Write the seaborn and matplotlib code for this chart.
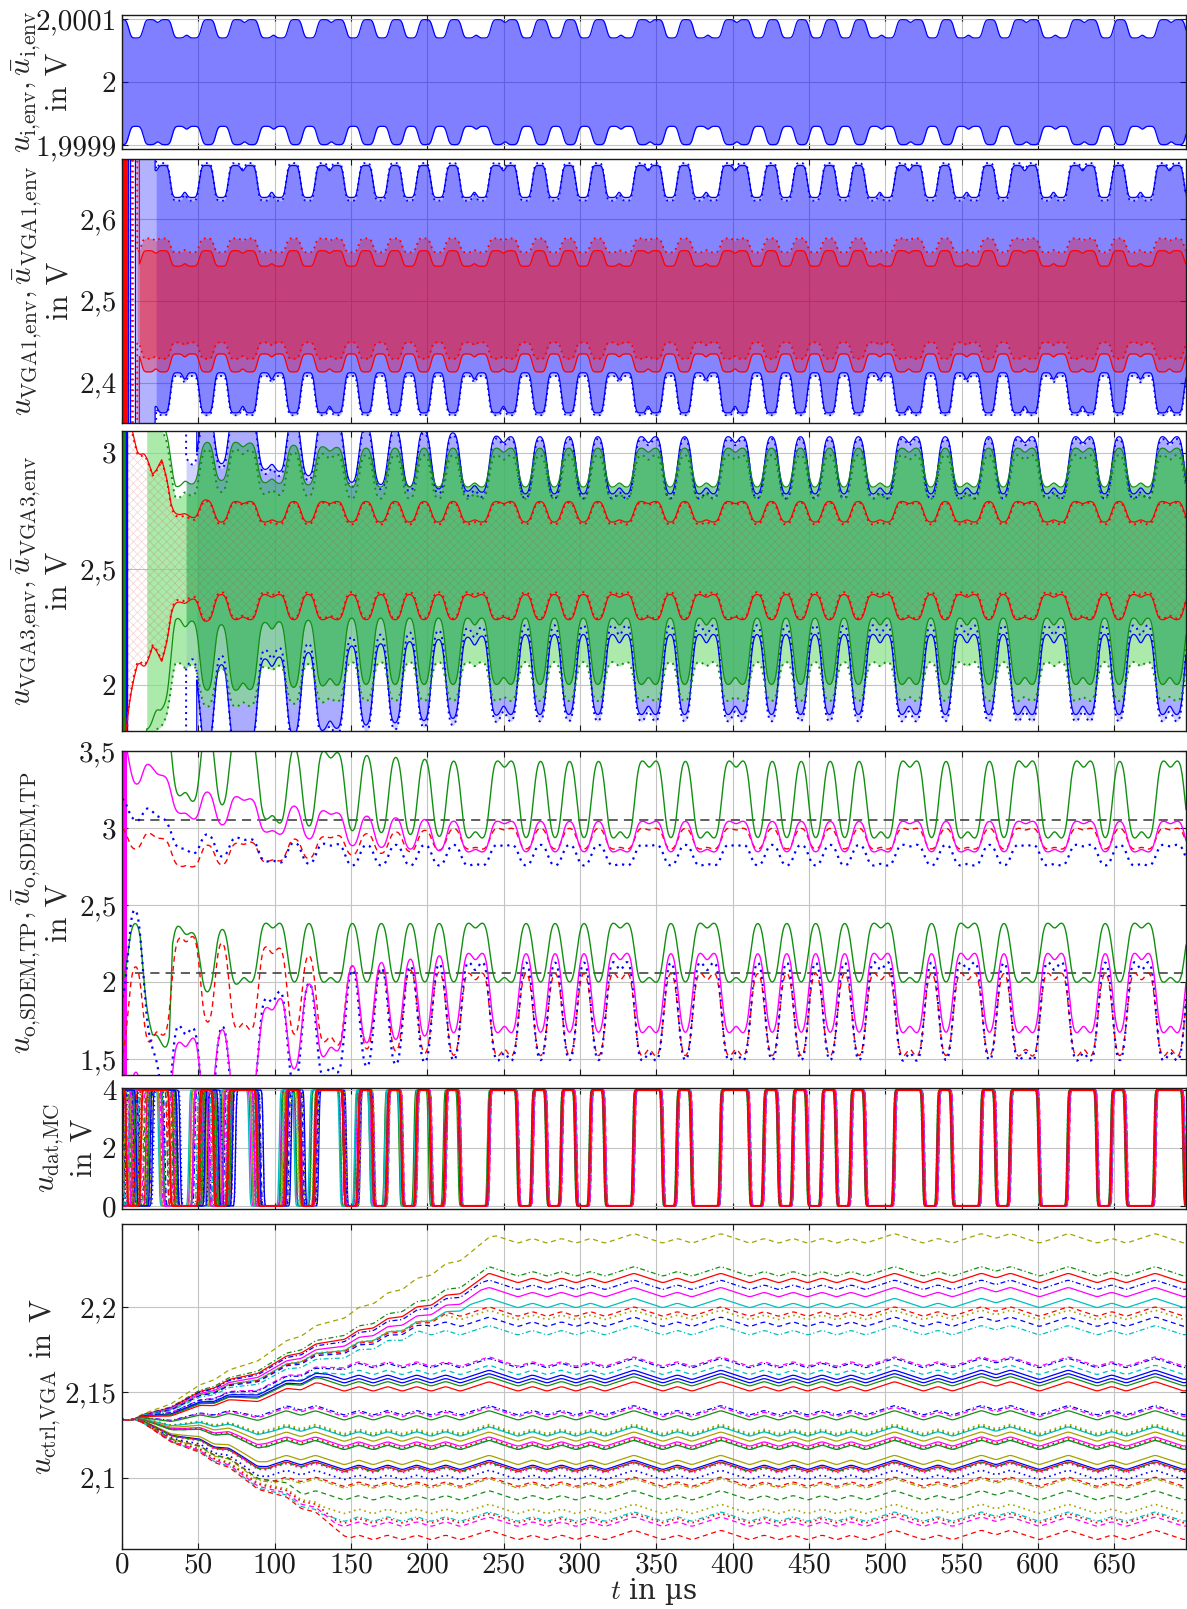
import numpy as np
import matplotlib
matplotlib.use('Agg')
import matplotlib.pyplot as plt
import seaborn as sns

sns.set_theme(style='ticks')
plt.rcParams['font.family'] = ['cmr10', 'DejaVu Serif']
plt.rcParams['mathtext.fontset'] = 'cm'
plt.rcParams['axes.unicode_minus'] = False
plt.rcParams['axes.formatter.use_mathtext'] = True
plt.rcParams['hatch.linewidth'] = 0.5

# ---------------- data ----------------
# Manchester coded data stream: 1 -> "10", 0 -> "01"
T0 = -16.07          # start of first symbol in us
H = 9.485            # half-bit duration in us
symbol_bits = [0, 0, 1, 0, 0, 1, 0, 0, 1, 1, 1, 1, 1, 0, 1, 1, 1, 1, 0, 1,
               1, 0, 1, 1, 1, 1, 1, 0, 1, 1, 0, 0, 1, 0, 1, 1, 0, 1, 0]
NOTCH_W = 1.0

# panel 1: input envelope  [top low, top high, bottom low, bottom high]
ui_env = [2.0000697, 2.0000987, 1.9999303, 1.9999013]
ui_yticks = [1.9999, 2.0, 2.0001]
ui_ylabels = ['1,9999', '2', '2,0001']

# panel 2: VGA1 envelopes
vga1_blue = [2.626, 2.665, 2.412, 2.363]
vga1_blue_dot = [2.622, 2.668, 2.408, 2.360]
vga1_red = [2.542, 2.561, 2.435, 2.413]
vga1_red_dot = [2.559, 2.576, 2.449, 2.429]
vga1_start = {'blue': 9.6, 'blue_dot': 22.4, 'red': 11.4, 'red_dot': 10.0}
vga1_blue_sat = 21.7
vga1_red_spikes = [0.2, 0.6, 1.0, 1.4, 1.8, 2.2, 2.6]
vga1_blue_spikes = [4.2, 5.5, 8.8]
vga1_reddot_spikes = [3.6, 6.5, 7.5]
vga1_yticks = [2.4, 2.5, 2.6]
vga1_ylabels = ['2,4', '2,5', '2,6']

# panel 3: VGA3 envelopes
vga3_blue = [2.82, 3.07, 2.22, 1.87]
vga3_blue_dot = [2.80, 3.06, 2.26, 1.84]
vga3_green = [2.85, 3.02, 2.29, 2.00]
vga3_green_dot = [2.80, 2.99, 2.10, 1.93]
vga3_red = [2.70, 2.79, 2.39, 2.28]
vga3_red_dot = [2.69, 2.785, 2.40, 2.285]
vga3_start = {'blue': 49.0, 'blue_dot': 42.0, 'green': 16.2, 'green_dot': 16.2,
              'red': 3.0, 'red_dot': 3.5}
vga3_green_fill_from = 42.0
vga3_blue_ex = [[42, 100, 150, 250], [0.15, 0.10, 0.05, 0.0]]
vga3_green_ex = [[16, 25, 35, 60, 150], [0.20, 0.12, 0.0, 0.03, 0.0]]
vga3_red_ex = [[3, 10, 20, 26, 32, 60], [0.5, 0.3, 0.12, 0.18, 0.04, 0.0]]
vga3_green_spikes = [0.2, 0.5, 0.8, 1.1, 1.4, 1.7]
vga3_blue_spikes = [2.4, 3.2]
vga3_yticks = [2.0, 2.5, 3.0]
vga3_ylabels = ['2', '2,5', '3']

# panel 4: demodulator outputs [top low, top high, bottom (bit low), bottom (bit high)]
sdem_green = [2.925, 3.444, 2.388, 1.99]
sdem_magenta = [2.84, 3.047, 2.195, 1.66]
sdem_red = [2.86, 3.00, 2.067, 1.508]
sdem_blue = [2.753, 2.893, 2.14, 1.476]
sdem_green_top_off = [[0, 25, 32, 45, 75, 100, 150, 220], [0.6, 0.6, 0.3, 0.24, 0.2, 0.1, 0.045, 0]]
sdem_green_bot_off = [[0, 12, 20, 31, 33, 50, 80], [0.0, 0.0, -0.35, -0.45, 0.0, -0.08, 0.0]]
sdem_magenta_top_off = [[0, 8, 26, 50, 100, 150, 220], [0.6, 0.45, 0.3, 0.2, 0.12, 0.04, 0]]
sdem_magenta_bot_off = [[0, 5, 30, 80, 110, 150, 220], [-0.8, -0.8, -0.6, -0.45, -0.25, -0.08, 0]]
sdem_red_top_off = [[0, 10, 40, 100, 150, 220], [0.0, 0.0, -0.12, -0.08, -0.04, 0]]
sdem_red_bot_off = [[0, 30, 40, 80, 100, 150, 220], [0.0, 0.15, 0.25, 0.17, 0.17, 0.05, 0]]
sdem_blue_top_off = [[0, 8, 30, 45, 100, 150], [0.3, 0.3, 0.15, 0.08, 0.02, 0]]
sdem_blue_bot_off = [[0, 15, 30, 60, 100, 150, 220], [0.4, 0.3, -0.4, -0.45, -0.2, -0.05, 0]]
sdem_thresholds = [3.05, 2.06]
sdem_thr_start = 8.5
sdem_magenta_spikes = [0.4, 0.9, 1.4, 1.9, 2.4]
sdem_yticks = [1.5, 2.0, 2.5, 3.0, 3.5]
sdem_ylabels = ['1,5', '2', '2,5', '3', '3,5']

# panel 5: Monte-Carlo comparator outputs
mc_delay = [0.0, 0.3, -0.2, 0.5, 0.1, 0.8, -0.4, 0.2, 0.6, -0.1, 0.4, 1.0,
            0.0, 0.7, -0.3, 0.3, 0.9, 0.1, 0.5, -0.2, 0.2, 1.2, 0.4, 0.0,
            0.6, -0.5, 0.3, 0.8, 0.1, 0.4, -0.1, 0.7, 0.2, 0.5, 0.0, 0.3]
mc_shift0 = [7, -6, 4, -8, 9, 3, -4, 6, -7, 2, 8, -3, 5, -9, 1, 7, -5, 4,
             -2, 6, -8, 3, 9, -6, 2, -4, 8, -7, 5, -1, 6, -3, 4, -9, 7, -5]
mc_settle = [60, 140, 90, 200, 70, 120, 260, 80, 150, 100, 180, 60, 110, 230,
             90, 130, 170, 75, 250, 100, 140, 85, 160, 120, 70, 210, 95, 135,
             185, 65, 105, 155, 240, 80, 125, 50]
mc_yticks = [0, 2, 4]

# panel 6: VGA control voltages
ctrl_start = 2.1335
ctrl_level = [2.240, 2.2206, 2.2167, 2.2127, 2.2084, 2.202, 2.197, 2.195, 2.191, 2.186,
              2.1676, 2.1667, 2.1627, 2.1598, 2.1578, 2.156, 2.153,
              2.139, 2.138, 2.136, 2.128, 2.127, 2.1265, 2.1235, 2.1206, 2.1195, 2.1186, 2.1186,
              2.1098, 2.1069, 2.1059, 2.105, 2.1055, 2.101, 2.097, 2.096, 2.089, 2.081,
              2.0765, 2.0755, 2.0735, 2.0657]
ctrl_t_end = [245, 240, 240, 235, 235, 228, 215, 205, 200, 195,
              150, 150, 145, 135, 135, 130, 130,
              110, 110, 105, 100, 100, 100, 95, 95, 95, 95, 95,
              95, 95, 95, 95, 95, 95, 100, 100, 120, 130, 130, 140, 140, 150]
ctrl_color = ['olive', 'green', 'red', 'blue', 'magenta', 'cyan', 'red', 'olive', 'blue', 'cyan',
              'magenta', 'blue', 'cyan', 'blue', 'blue', 'green', 'red',
              'blue', 'magenta', 'green', 'olive', 'green', 'cyan', 'olive', 'magenta', 'red', 'cyan', 'green',
              'olive', 'blue', 'red', 'magenta', 'green', 'blue', 'red', 'olive', 'green', 'olive',
              'cyan', 'red', 'magenta', 'red']
ctrl_style = ['--', '-.', '-', '-.', '-', '-', '--', ':', '--', '-.',
              '--', '-.', '--', '-', '-', '-', '-',
              '-.', '--', '-', ':', ':', '-', '-', '-', ':', '--', '-',
              '-', '-', '-', ':', '-.', ':', '--', '-.', '--', ':',
              '-.', ':', '--', '--']
ctrl_yticks = [2.1, 2.15, 2.2]
ctrl_ylabels = ['2,1', '2,15', '2,2']

x_ticks = list(range(0, 700, 50))

# ---------------- helpers ----------------
COL = {'blue': '#0000ff', 'red': '#ff0000', 'green': '#118f11', 'magenta': '#ff00ff',
       'cyan': '#00bfbf', 'olive': '#a3a300'}
LS = {'-': '-', '--': (0, (4, 3)), ':': (0, (1, 2.2)), '-.': (0, (4, 2, 1, 2))}

t = np.arange(0.0, 697.05, 0.1)
t_f = np.arange(-60.0, 760.0, 0.05)

hb = []
for b in symbol_bits:
    hb += [1, 0] if b == 1 else [0, 1]
hb = np.array(hb, dtype=float)
idx = np.clip(np.floor((t_f - T0) / H).astype(int), 0, len(hb) - 1)
raw_plain = hb[idx]
raw = raw_plain.copy()
for i in range(1, len(hb)):
    if hb[i] == hb[i - 1]:
        raw[np.abs(t_f - (T0 + i * H)) < NOTCH_W / 2] = 0.5


def smooth(sig, width):
    n = int(4 * width / 0.05)
    x = np.arange(-n, n + 1) * 0.05
    k = np.exp(-0.5 * (x / width) ** 2)
    k /= k.sum()
    return np.convolve(sig, k, mode='same')


def env(width, delay, notch=True):
    return np.interp(t - delay, t_f, smooth(raw if notch else raw_plain, width))


def knots(kn):
    return np.interp(t, kn[0], kn[1])


def band(vals, e, ylim, start=0.0, ex=None, sat_until=None):
    top = vals[0] + (vals[1] - vals[0]) * e
    bot = vals[2] + (vals[3] - vals[2]) * e
    if ex is not None:
        extra = np.interp(t, ex[0], ex[1])
        top = top + extra
        bot = bot - extra
    pre = t < start
    top[pre] = ylim[1] + 5
    bot[pre] = ylim[0] - 5
    if sat_until is not None:
        s = (t >= start) & (t < sat_until)
        top[s] = ylim[1] + 5
        bot[s] = ylim[0] - 5
    return top, bot


AX_LEFT_PX, AX_W_PX = 122.0, 1064.0


def px(xp):
    # figure pixel column -> axes fraction
    return (xp - AX_LEFT_PX) / AX_W_PX


def style_axis(ax, ylim, yticks, ylabels, lines, xs, bottom=False):
    ax.set_xlim(0, 697)
    ax.set_ylim(*ylim)
    ax.set_xticks(x_ticks)
    ax.set_yticks(yticks)
    ax.set_yticklabels(ylabels)
    if bottom:
        ax.set_xticklabels([str(v) for v in x_ticks])
    else:
        ax.set_xticklabels([])
    ax.grid(True, color='#c4c4c4', lw=0.8)
    ax.set_axisbelow(True)
    ax.tick_params(direction='in', length=4, width=0.8, top=True, right=True,
                   labelsize=21, colors='k', pad=4)
    ax.tick_params(axis='x', pad=2)
    for sp in ax.spines.values():
        sp.set_color('k')
        sp.set_linewidth(1.0)
    # y label: one rotated text per line, as in the original
    for txt, xp in zip(lines, xs):
        ax.text(px(xp), 0.5, txt, transform=ax.transAxes, rotation=90,
                ha='right', va='center', fontsize=22)


fig = plt.figure(figsize=(11.87, 16.09), dpi=100)
L, W = AX_LEFT_PX / 1187, AX_W_PX / 1187
ax1 = fig.add_axes([L, 0.9075, W, 0.0829])
ax2 = fig.add_axes([L, 0.7373, W, 0.1639])
ax3 = fig.add_axes([L, 0.5454, W, 0.1868])
ax4 = fig.add_axes([L, 0.3319, W, 0.2014])
ax5 = fig.add_axes([L, 0.2489, W, 0.0752])
ax6 = fig.add_axes([L, 0.0373, W, 0.2020])

# ---------------- panel 1 ----------------
ylim1 = (1.9998947, 2.0001053)
e1 = env(1.3, 1.5)
top1, bot1 = band(ui_env, e1, ylim1)
ax1.fill_between(t, bot1, top1, color='#0000ff', alpha=0.5, lw=0)
sns.lineplot(x=t, y=top1, ax=ax1, color='#0000ff', lw=0.9, estimator=None, sort=False)
sns.lineplot(x=t, y=bot1, ax=ax1, color='#0000ff', lw=0.9, estimator=None, sort=False)
style_axis(ax1, ylim1, ui_yticks, ui_ylabels,
           [r'$u_{\mathrm{i{,}env}}, \bar{u}_{\mathrm{i{,}env}}$', 'in V'], [42, 72])

# ---------------- panel 2 ----------------
ylim2 = (2.351, 2.673)
e2 = env(1.2, 0.3)
bt, bb = band(vga1_blue, e2, ylim2, vga1_start['blue'], sat_until=vga1_blue_sat)
bdt, bdb = band(vga1_blue_dot, e2, ylim2, vga1_start['blue_dot'])
rt, rb = band(vga1_red, e2, ylim2, vga1_start['red'])
rdt, rdb = band(vga1_red_dot, e2, ylim2, vga1_start['red_dot'])
ax2.fill_between(t, bdb, bdt, where=t >= vga1_start['blue_dot'], color='#0000ff', alpha=0.25, lw=0)
ax2.fill_between(t, bb, bt, where=t >= vga1_start['blue'], color='#0000ff', alpha=0.3, lw=0)
ax2.fill_between(t, rdb, rdt, where=t >= vga1_start['red_dot'], color='#ff0000', alpha=0.3, lw=0)
ax2.fill_between(t, rb, rt, where=t >= vga1_start['red'], color='#ff0000', alpha=0.3, lw=0)
ax2.vlines(vga1_red_spikes, *ylim2, color=COL['red'], lw=2.0)
ax2.vlines(vga1_blue_spikes, *ylim2, color=COL['blue'], lw=1.0)
ax2.vlines(vga1_reddot_spikes, *ylim2, color=COL['red'], lw=1.2, linestyles=[LS[':']])
for y, c, s in [(bt, 'blue', '-'), (bb, 'blue', '-'), (bdt, 'blue', ':'), (bdb, 'blue', ':'),
                (rt, 'red', '-'), (rb, 'red', '-'), (rdt, 'red', ':'), (rdb, 'red', ':')]:
    ax2.plot(t, y, color=COL[c], ls=LS[s], lw=1.3 if s == ':' else 0.9)
style_axis(ax2, ylim2, vga1_yticks, vga1_ylabels,
           [r'$u_{\mathrm{VGA1{,}env}}, \bar{u}_{\mathrm{VGA1{,}env}}$', 'in V'], [43, 73])

# ---------------- panel 3 ----------------
ylim3 = (1.80, 3.093)
e3 = env(1.8, 0.5)
b3t, b3b = band(vga3_blue, e3, ylim3, vga3_start['blue'], vga3_blue_ex)
bd3t, bd3b = band(vga3_blue_dot, e3, ylim3, vga3_start['blue_dot'], vga3_blue_ex)
g3t, g3b = band(vga3_green, e3, ylim3, vga3_start['green'], vga3_green_ex)
gd3t, gd3b = band(vga3_green_dot, e3, ylim3, vga3_start['green_dot'], vga3_green_ex)
r3t, r3b = band(vga3_red, e3, ylim3, vga3_start['red'], vga3_red_ex)
rd3t, rd3b = band(vga3_red_dot, e3, ylim3, vga3_start['red_dot'], vga3_red_ex)
ax3.fill_between(t, bd3b, bd3t, where=t >= vga3_start['blue_dot'], color='#0000ff', alpha=0.18, lw=0)
ax3.fill_between(t, b3b, b3t, where=t >= vga3_start['blue'], color='#0000ff', alpha=0.18, lw=0)
ax3.fill_between(t, gd3b, gd3t, where=t >= vga3_start['green_dot'], color='#7ee07e', alpha=0.65, lw=0)
ax3.fill_between(t, g3b, g3t, where=t >= vga3_green_fill_from, color='#1fae45', alpha=0.5, lw=0)
ax3.fill_between(t, rd3b, rd3t, where=t >= vga3_start['red_dot'], facecolor='none',
                 edgecolor=(0.8, 0.2, 0.2, 0.22), hatch='xxxx', lw=0)
ax3.vlines(vga3_green_spikes, *ylim3, color=COL['green'], lw=1.5)
ax3.vlines(vga3_blue_spikes, *ylim3, color=COL['blue'], lw=1.0)
for y, c, s in [(bd3t, 'blue', ':'), (bd3b, 'blue', ':'), (b3t, 'blue', '-'), (b3b, 'blue', '-'),
                (gd3t, 'green', ':'), (gd3b, 'green', ':'), (g3t, 'green', '-'), (g3b, 'green', '-'),
                (rd3t, 'red', ':'), (rd3b, 'red', ':'), (r3t, 'red', '-'), (r3b, 'red', '-')]:
    ax3.plot(t, y, color=COL[c], ls=LS[s], lw=1.4 if s == ':' else 0.9)
style_axis(ax3, ylim3, vga3_yticks, vga3_ylabels,
           [r'$u_{\mathrm{VGA3{,}env}}, \bar{u}_{\mathrm{VGA3{,}env}}$', 'in V'], [42, 72])

# ---------------- panel 4 ----------------
ylim4 = (1.395, 3.50)
e4 = env(2.1, 1.0)
ax4.hlines(sdem_thresholds, sdem_thr_start, 697, color='#333333', lw=1.1, linestyles=[(0, (6, 4))])
ax4.vlines(sdem_magenta_spikes, *ylim4, color=COL['magenta'], lw=1.5)
for vals, c, s, ton, bon in [
        (sdem_green, 'green', '-', sdem_green_top_off, sdem_green_bot_off),
        (sdem_red, 'red', '--', sdem_red_top_off, sdem_red_bot_off),
        (sdem_blue, 'blue', ':', sdem_blue_top_off, sdem_blue_bot_off),
        (sdem_magenta, 'magenta', '-', sdem_magenta_top_off, sdem_magenta_bot_off)]:
    top = vals[0] + (vals[1] - vals[0]) * e4 + knots(ton)
    bot = vals[2] + (vals[3] - vals[2]) * e4 + knots(bon)
    lw = 1.6 if s == ':' else 1.0
    ax4.plot(t, top, color=COL[c], ls=LS[s], lw=lw)
    ax4.plot(t, bot, color=COL[c], ls=LS[s], lw=lw)
style_axis(ax4, ylim4, sdem_yticks, sdem_ylabels,
           [r'$u_{\mathrm{o{,}SDEM{,}TP}}, \bar{u}_{\mathrm{o{,}SDEM{,}TP}}$', 'in V'], [42, 72])

# ---------------- panel 5 ----------------
ylim5 = (-0.09, 4.09)
mc_cols = ['green', 'cyan', 'olive', 'magenta', 'blue', 'red']
mc_ls = ['--', ':', '-.', '-']
sharp = smooth(raw_plain, 0.55)
for i in range(len(mc_delay)):
    shift = mc_shift0[i] * np.clip(1 - t / mc_settle[i], 0, 1)
    y = 4.0 * np.interp(t - mc_delay[i] - shift, t_f, sharp)
    ax5.plot(t, y, color=COL[mc_cols[i % 6]], ls=LS[mc_ls[(i // 6 + i) % 4]], lw=1.0)
# reference run on top
ax5.plot(t, 4.0 * np.interp(t, t_f, sharp), color=COL['red'], lw=1.4)
style_axis(ax5, ylim5, mc_yticks, [str(v) for v in mc_yticks],
           [r'$u_{\mathrm{dat{,}MC}}$', 'in V'], [66, 97])

# ---------------- panel 6 ----------------
ylim6 = (2.058, 2.249)
e6 = env(1.0, 0.5, notch=False)
ripple = 0.0006 * np.cumsum(0.5 - e6) * 0.1
ripple -= ripple[t > 100].mean()
for lvl, te, c, s in zip(ctrl_level, ctrl_t_end, ctrl_color, ctrl_style):
    frac = np.clip((t - 8.0) / (te - 8.0), 0, 1)
    y = ctrl_start + (lvl - ctrl_start) * frac + ripple * (0.4 + 0.6 * frac)
    sns.lineplot(x=t, y=y, ax=ax6, color=COL[c], linestyle=LS[s],
                 lw=1.2 if s == ':' else 0.9, estimator=None, sort=False)
style_axis(ax6, ylim6, ctrl_yticks, ctrl_ylabels,
           [r'$u_{\mathrm{ctrl{,}VGA}}$ in V'], [63], bottom=True)
fig.text(L + W / 2, 0.0012, '$t$ in µs', ha='center', va='bottom', fontsize=20,
         fontfamily=['DejaVu Serif'])

fig.savefig('out.png', dpi=100)
